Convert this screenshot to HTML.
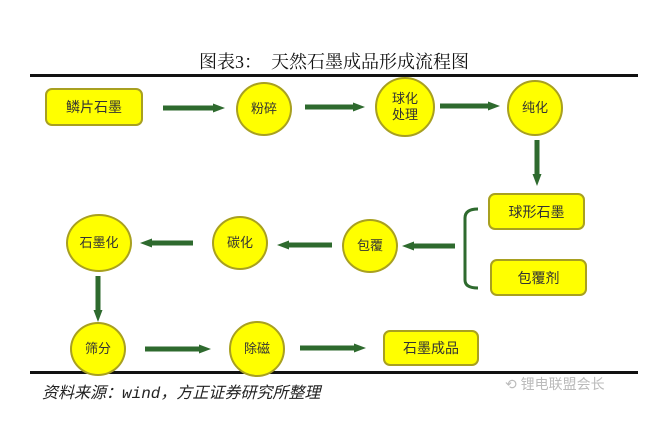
<!DOCTYPE html>
<html><head><meta charset="utf-8"><style>
body{margin:0;background:#fff;width:668px;height:428px;overflow:hidden;position:relative;font-family:"Liberation Sans","Noto Sans CJK SC",sans-serif}
.t{position:absolute;left:0;width:668px;top:48px;text-align:center;font-family:"Liberation Serif","Noto Serif CJK SC",serif;font-size:18px;color:#111}
.hl{position:absolute;left:30px;width:608px;height:3px;background:#111}
.b{position:absolute;background:#ffff00;border:2px solid #a8a020;border-radius:7px;display:flex;align-items:center;justify-content:center;font-size:14px;color:#333;box-sizing:border-box}
.c{position:absolute;background:#ffff00;border:2px solid #a8a020;border-radius:50%;display:flex;align-items:center;justify-content:center;text-align:center;font-size:13px;line-height:16px;color:#333;box-sizing:border-box}
.src{position:absolute;left:42px;top:379px;font-style:italic;font-size:16px;color:#222;font-family:"Liberation Mono","Noto Sans CJK SC",monospace}
.wm{position:absolute;left:505px;top:374px;font-size:14px;color:#bbb}
</style></head><body>
<div class="t">图表3：&nbsp;&nbsp;天然石墨成品形成流程图</div>
<div class="hl" style="top:74px"></div>
<div class="hl" style="top:371px"></div>
<div class="b" style="left:45px;top:88px;width:98px;height:38px">鳞片石墨</div>
<div class="c" style="left:236px;top:82px;width:56px;height:54px">粉碎</div>
<div class="c" style="left:375px;top:77px;width:60px;height:60px">球化<br>处理</div>
<div class="c" style="left:507px;top:80px;width:56px;height:56px">纯化</div>
<div class="b" style="left:488px;top:193px;width:97px;height:37px">球形石墨</div>
<div class="b" style="left:490px;top:259px;width:97px;height:37px">包覆剂</div>
<div class="c" style="left:342px;top:219px;width:56px;height:54px">包覆</div>
<div class="c" style="left:212px;top:216px;width:56px;height:54px">碳化</div>
<div class="c" style="left:66px;top:214px;width:66px;height:58px">石墨化</div>
<div class="c" style="left:70px;top:322px;width:56px;height:54px">筛分</div>
<div class="c" style="left:229px;top:321px;width:56px;height:56px">除磁</div>
<div class="b" style="left:383px;top:330px;width:96px;height:36px">石墨成品</div>
<svg width="668" height="428" style="position:absolute;left:0;top:0">
<defs><marker id="a" markerUnits="userSpaceOnUse" markerWidth="12" markerHeight="9" refX="2" refY="4.5" orient="auto"><path d="M0,0L12,4.5L0,9z" fill="#2e6a2e"/></marker></defs>
<g stroke="#2e6a2e" stroke-width="5" fill="none" marker-end="url(#a)">
<line x1="163" y1="108" x2="215" y2="108"/>
<line x1="305" y1="107" x2="355" y2="107"/>
<line x1="440" y1="106" x2="490" y2="106"/>
<line x1="537" y1="140" x2="537" y2="176"/>
<line x1="455" y1="246" x2="412" y2="246"/>
<line x1="332" y1="245" x2="287" y2="245"/>
<line x1="193" y1="243" x2="150" y2="243"/>
<line x1="98" y1="276" x2="98" y2="312"/>
<line x1="145" y1="349" x2="201" y2="349"/>
<line x1="300" y1="348" x2="356" y2="348"/>
</g>
<path d="M478,209 Q465,209 465,218 L465,280 Q465,288 478,288" stroke="#2e6a2e" stroke-width="3" fill="none"/>
</svg>
<div class="src">资料来源：wind，方正证券研究所整理</div>
<div class="wm">⟲ 锂电联盟会长</div>
</body></html>
